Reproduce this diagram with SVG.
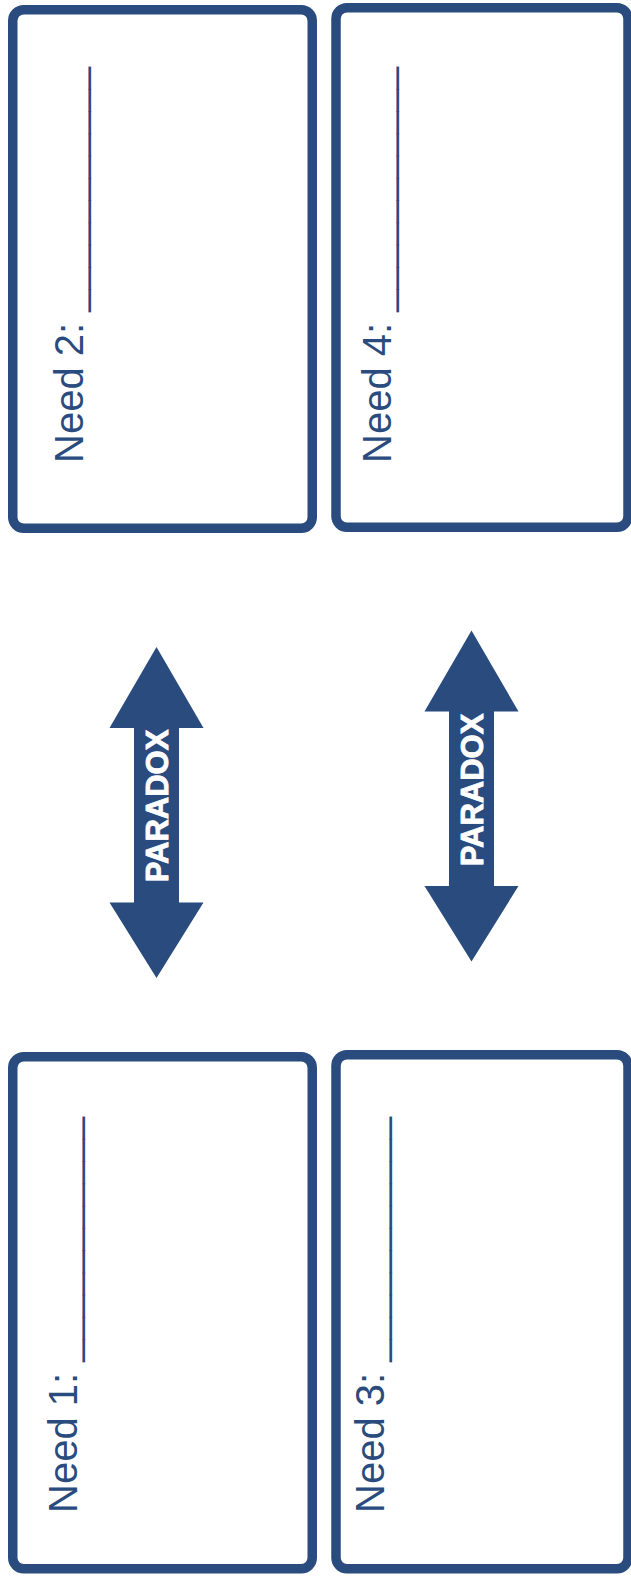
<svg xmlns="http://www.w3.org/2000/svg" width="631" height="1576" viewBox="0 0 631 1576">
  <defs>
    <style>
      .box { fill: #ffffff; stroke: #294b7e; stroke-width: 9.5; }
      .need { font-family: "Liberation Sans", Arial, sans-serif; font-size: 40px; fill: #2a4b7d; }
      .arrow { fill: #294b7e; }
      .plabel { font-family: "Liberation Sans", Arial, sans-serif; font-size: 31px; font-weight: bold; fill: #ffffff; stroke: #ffffff; stroke-width: 0.9; text-anchor: middle; }
    </style>
    <path id="dblarrow" d="M156.5,647 L203.5,728 L179,728 L179,902.5 L203.5,902.5 L156.5,978 L109.5,902.5 L134,902.5 L134,728 L109.5,728 Z"/>
  </defs>
  <rect width="631" height="1576" fill="#ffffff"/>

  <g id="need2">
    <rect class="box" x="12.75" y="9.75" width="299.5" height="518.5" rx="11" ry="11"/>
    <text class="need" transform="translate(83,463) rotate(-90)">Need 2: ___________</text>
  </g>
  <g id="need4">
    <rect class="box" x="336" y="7.75" width="292" height="519.5" rx="11" ry="11"/>
    <text class="need" transform="translate(391,463) rotate(-90)">Need 4: ___________</text>
  </g>
  <g id="need1">
    <rect class="box" x="12.75" y="1056.75" width="299.5" height="512" rx="11" ry="11"/>
    <text class="need" transform="translate(77,1513) rotate(-90)">Need 1: ___________</text>
  </g>
  <g id="need3">
    <rect class="box" x="336" y="1054.75" width="292" height="514" rx="11" ry="11"/>
    <text class="need" transform="translate(384,1513) rotate(-90)">Need 3: ___________</text>
  </g>

  <g id="connectors">
    <g id="paradox1">
      <use href="#dblarrow" class="arrow"/>
      <text class="plabel" transform="translate(168,806) rotate(-90)">PARADOX</text>
    </g>
    <g id="paradox2">
      <use href="#dblarrow" class="arrow" transform="translate(315,-16.5)"/>
      <text class="plabel" transform="translate(483,790) rotate(-90)">PARADOX</text>
    </g>
  </g>
</svg>
